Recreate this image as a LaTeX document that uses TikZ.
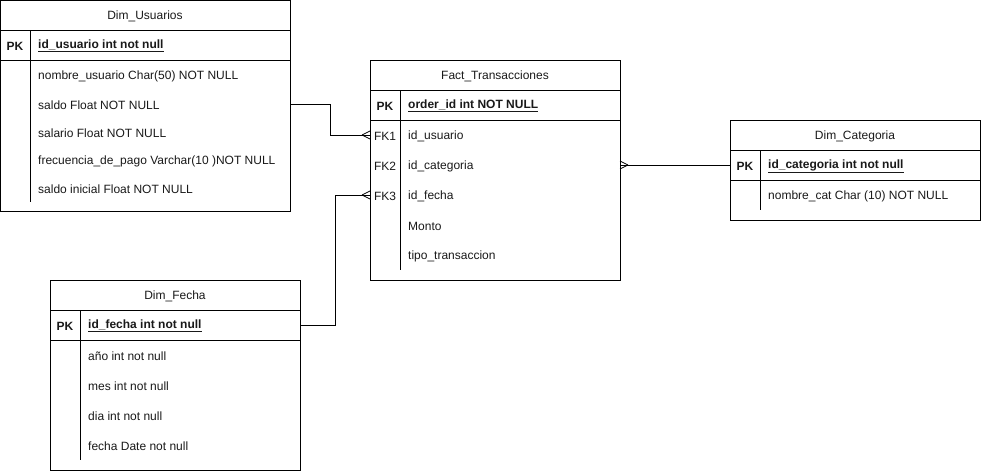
\documentclass[tikz,border=0pt]{standalone}
\usepackage{fontspec}
\setmainfont{Liberation Sans}
\begin{document}
\begin{tikzpicture}[x=1pt,y=-1pt,
  ent/.style={draw=black, line width=1pt, anchor=north west, inner sep=0pt, outer sep=0pt},
  ttl/.style={font=\fontsize{12}{14}\selectfont, anchor=center, inner sep=0pt, text=black!90, yshift=-1pt},
  fld/.style={font=\fontsize{12}{14}\selectfont, anchor=west, inner sep=0pt, text=black!90, yshift=-1pt},
  key/.style={font=\fontsize{12}{14}\selectfont, anchor=center, inner sep=0pt, text=black!90, yshift=-1pt},
  sep/.style={line width=1pt, draw=black},
  conn/.style={line width=1pt, draw=black},
  crow/.style={line width=0.8pt, draw=black}
]
\useasboundingbox (0,0) rectangle (981,471);

% ---------- Dim_Usuarios ----------
\node[ent, minimum width=289.5pt, minimum height=210.5pt] (usu) at (0.5,0.5) {};
\draw[sep] (0,30) -- (290,30);
\draw[sep] (0,60) -- (290,60);
\draw[sep] (30,30) -- (30,202);
\node[ttl] (usuT) at (145,15) {Dim\_Usuarios};
\node[key] (usuPK) at (15,45) {\textbf{PK}};
\node[fld] (usu0) at (38,45) {\textbf{\underline{id\_usuario int not null}}};
\node[fld] (usu1) at (38,75) {nombre\_usuario Char(50) NOT NULL};
\node[fld] (usu2) at (38,104) {saldo Float NOT NULL};
\node[fld] (usu3) at (38,132) {salario Float NOT NULL};
\node[fld] (usu4) at (38,160) {frecuencia\_de\_pago Varchar(10 )NOT NULL};
\node[fld] (usu5) at (38,188) {saldo inicial Float NOT NULL};

% ---------- Fact_Transacciones ----------
\node[ent, minimum width=250pt, minimum height=220pt] (fact) at (370,60) {};
\draw[sep] (370,90) -- (620,90);
\draw[sep] (370,120) -- (620,120);
\draw[sep] (400,90) -- (400,270);
\node[ttl] (factT) at (495,75) {Fact\_Transacciones};
\node[key] (factPK) at (385,105) {\textbf{PK}};
\node[fld] (fact0) at (408,105) {\textbf{\underline{order\_id int NOT NULL}}};
\node[key] (fk1) at (385,135) {FK1};
\node[fld] (fact1) at (408,135) {id\_usuario};
\node[key] (fk2) at (385,165) {FK2};
\node[fld] (fact2) at (408,165) {id\_categoria};
\node[key] (fk3) at (385,195) {FK3};
\node[fld] (fact3) at (408,195) {id\_fecha};
\node[fld] (fact4) at (408,225) {Monto};
\node[fld] (fact5) at (408,255) {tipo\_transaccion};

% ---------- Dim_Categoria ----------
\node[ent, minimum width=250pt, minimum height=100pt] (cat) at (730,120) {};
\draw[sep] (730,150) -- (980,150);
\draw[sep] (730,180) -- (980,180);
\draw[sep] (760,150) -- (760,210);
\node[ttl] (catT) at (855,135) {Dim\_Categoria};
\node[key] (catPK) at (745,165) {\textbf{PK}};
\node[fld] (cat0) at (768,165) {\textbf{\underline{id\_categoria int not null}}};
\node[fld] (cat1) at (768,195) {nombre\_cat Char (10) NOT NULL};

% ---------- Dim_Fecha ----------
\node[ent, minimum width=250pt, minimum height=190pt] (fec) at (50,280) {};
\draw[sep] (50,310) -- (300,310);
\draw[sep] (50,340) -- (300,340);
\draw[sep] (80,310) -- (80,460);
\node[ttl] (fecT) at (175,295) {Dim\_Fecha};
\node[key] (fecPK) at (65,325) {\textbf{PK}};
\node[fld] (fec0) at (88,325) {\textbf{\underline{id\_fecha int not null}}};
\node[fld] (fec1) at (88,355) {año int not null};
\node[fld] (fec2) at (88,385) {mes int not null};
\node[fld] (fec3) at (88,415) {dia int not null};
\node[fld] (fec4) at (88,445) {fecha Date not null};

% ---------- connector anchors ----------
\coordinate (u1) at (usu.east |- 0,104);
\coordinate (f1) at (fact.west |- 0,135);
\coordinate (f2) at (fact.east |- 0,165);
\coordinate (c1) at (cat.west |- 0,165);
\coordinate (d1) at (fec.east |- 0,325);
\coordinate (f3) at (fact.west |- 0,195);

% ---------- connectors ----------
\draw[conn] (u1) -- ++(40,0) |- (f1);
\draw[conn] (d1) -- ++(35,0) |- (f3);
\draw[conn] (f2) -- (c1);

% crow's feet (many)
\draw[crow] ([xshift=-8pt]f1) -- ([yshift=-4pt]f1);
\draw[crow] ([xshift=-8pt]f1) -- ([yshift=4pt]f1);
\draw[crow] ([xshift=-8pt]f3) -- ([yshift=-4pt]f3);
\draw[crow] ([xshift=-8pt]f3) -- ([yshift=4pt]f3);
\draw[crow] ([xshift=8pt]f2) -- ([yshift=-4pt]f2);
\draw[crow] ([xshift=8pt]f2) -- ([yshift=4pt]f2);
\end{tikzpicture}
\end{document}
